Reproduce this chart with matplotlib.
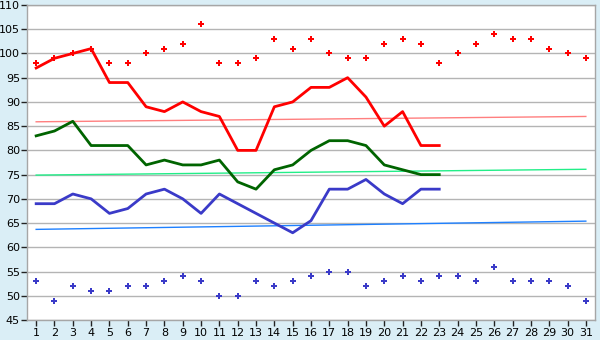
import matplotlib
matplotlib.use("Agg")
import matplotlib.pyplot as plt

# --- data ---
days = list(range(1, 32))
line_days = list(range(1, 24))

red_points = [98, 99, 100, 101, 98, 98, 100, 101, 102, 106, 98, 98, 99, 103, 101, 103,
              100, 99, 99, 102, 103, 102, 98, 100, 102, 104, 103, 103, 101, 100, 99]
red_line = [97, 99, 100, 101, 94, 94, 89, 88, 90, 88, 87, 80, 80, 89, 90, 93, 93, 95,
            91, 85, 88, 81, 81]
green_line = [83, 84, 86, 81, 81, 81, 77, 78, 77, 77, 78, 73.5, 72, 76, 77, 80, 82, 82,
              81, 77, 76, 75, 75]
blue_line = [69, 69, 71, 70, 67, 68, 71, 72, 70, 67, 71, 69, 67, 65, 63, 65.5, 72, 72,
             74, 71, 69, 72, 72]
blue_points = [53, 49, 52, 51, 51, 52, 52, 53, 54, 53, 50, 50, 53, 52, 53, 54, 55, 55,
               52, 53, 54, 53, 54, 54, 53, 56, 53, 53, 53, 52, 49]

# thin reference lines (start / end values)
ref_days = [1, 31]
ref_red = [85.9, 87.0]
ref_green = [74.9, 76.1]
ref_blue = [63.7, 65.4]

bg = "#daeef6"
fig = plt.figure(figsize=(6, 3.4), dpi=100, facecolor=bg)
ax = fig.add_axes([27 / 600, 1 - 320 / 340, 568 / 600, 315 / 340])
ax.set_facecolor("white")

# grid
ax.set_axisbelow(True)
ax.yaxis.grid(True, color="#b4b4b4", linewidth=1)

# reference lines
ax.plot(ref_days, ref_red, color="#ff7f7f", linewidth=1)
ax.plot(ref_days, ref_green, color="#22ee88", linewidth=1)
ax.plot(ref_days, ref_blue, color="#1e80ff", linewidth=1)

# main lines
ax.plot(line_days, red_line, color="#ff0000", linewidth=2)
ax.plot(line_days, green_line, color="#006400", linewidth=2)
ax.plot(line_days, blue_line, color="#3a3ac8", linewidth=2)

# point series
ax.plot(days, red_points, linestyle="none", marker="P", markersize=5,
        color="#ff0000", markeredgewidth=0)
ax.plot(days, blue_points, linestyle="none", marker="P", markersize=5,
        color="#3a3ac8", markeredgewidth=0)

ax.set_xlim(0.5, 31.5)
ax.set_ylim(45, 110)
ax.set_xticks(days)
ax.set_yticks(range(45, 111, 5))

for s in ax.spines.values():
    s.set_color("#a6a6a6")
    s.set_linewidth(1)

ax.tick_params(axis="both", colors="#222222", labelcolor="black", labelsize=8,
               length=4, width=1)
ax.tick_params(axis="x", pad=2)
ax.tick_params(axis="y", pad=1)

fig.savefig("out.png", dpi=100, facecolor=bg)
